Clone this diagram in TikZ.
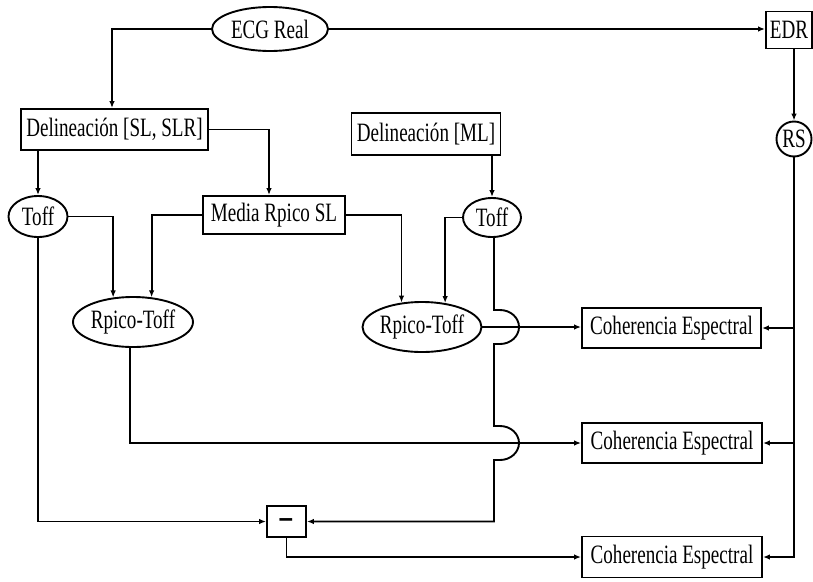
\documentclass[tikz,border=0pt]{standalone}
\usepackage{fontspec}
\setmainfont{Liberation Serif}[FakeStretch=0.72]
\usetikzlibrary{arrows.meta,shapes.geometric}
\begin{document}
\begin{tikzpicture}[x=1pt,y=1pt,line width=1.9pt,
  every node/.style={font=\fontsize{26.5}{28}\selectfont,inner sep=0pt,line width=1.9pt},
  box/.style={draw,rectangle},
  oval/.style={draw,ellipse},
  arr/.style={-{Latex[length=7pt,width=5.5pt]}}]
\useasboundingbox (0,0) rectangle (813,-581);
% nodes
\node[oval,minimum width=116,minimum height=44] (ecg) at (270,-29) {ECG Real};
\node[box,minimum width=46,minimum height=37] (edr) at (789,-30) {EDR};
\node[draw,circle,minimum size=35] (rs) at (794,-139) {RS};
\node[box,minimum width=187,minimum height=41] (del1) at (114.5,-129.5) {Delineación [SL, SLR]};
\node[box,minimum width=149,minimum height=42] (del2) at (426,-134) {Delineación [ML]};
\node[oval,minimum width=59,minimum height=41] (toff1) at (38,-216.5) {Toff};
\node[box,minimum width=142,minimum height=38] (media) at (274,-215) {Media Rpico SL};
\node[oval,minimum width=58,minimum height=39] (toff2) at (492,-217.5) {Toff};
\node[oval,minimum width=120,minimum height=50] (rt1) at (133,-322) {Rpico-Toff};
\node[oval,minimum width=119,minimum height=50] (rt2) at (422,-327) {Rpico-Toff};
\node[box,minimum width=179,minimum height=40] (coh1) at (671.5,-328) {Coherencia Espectral};
\node[box,minimum width=180,minimum height=40] (coh2) at (672,-443) {Coherencia Espectral};
\node[box,minimum width=180,minimum height=41] (coh3) at (672,-557) {Coherencia Espectral};
\node[box,minimum width=39,minimum height=31] (minus) at (286.5,-521.5) {\smash{\raisebox{-11pt}{\fontsize{38}{38}\selectfont\textbf{\char"2212}}}};
% connectors
\draw[arr] (ecg.east) -- (ecg.east -| edr.west);
\draw[arr] (ecg.west) -| ([xshift=-2.5pt]del1.north);
\draw[arr] (del1.east) -| ([xshift=-5pt]media.north);
\draw[arr] (del1.south -| toff1.north) -- (toff1.north);
\draw[arr] (toff2.north |- del2.south) -- (toff2.north);
\draw[arr] (rs.north |- edr.south) -- (rs.north);
\draw[arr] (toff1.east) -| (rt1.129);
\draw[arr] (media.west) -| (rt1.53);
\draw[arr] (media.east) -| (rt2.130);
\draw[arr] (toff2.west) -| (rt2.46);
\draw[arr] (rt2.east) -- (rt2.east -| coh1.west);
\draw[arr] ([xshift=-3pt]rt1.south) |- (coh2.west);
\draw[arr] (toff1.south) |- (minus.west);
\draw[arr] (minus.south) |- (coh3.west);
\draw[arr] (rs.south) |- (coh3.east);
\draw[arr] (rs.south |- coh1.east) -- (coh1.east);
\draw[arr] (rs.south |- coh2.east) -- (coh2.east);
% vertical line with jumps
\coordinate (j1) at (494,-327);
\coordinate (j2) at (494,-443);
\draw[arr] ([xshift=2pt]toff2.south) -- ([yshift=17pt]j1) -- ++(6,0)
  arc[start angle=90,end angle=-90,x radius=19pt,y radius=17pt] -- ([yshift=-17pt]j1)
  -- ([yshift=17pt]j2) -- ++(6,0)
  arc[start angle=90,end angle=-90,x radius=19pt,y radius=17pt] -- ([yshift=-17pt]j2)
  |- (minus.east);
\end{tikzpicture}
\end{document}
